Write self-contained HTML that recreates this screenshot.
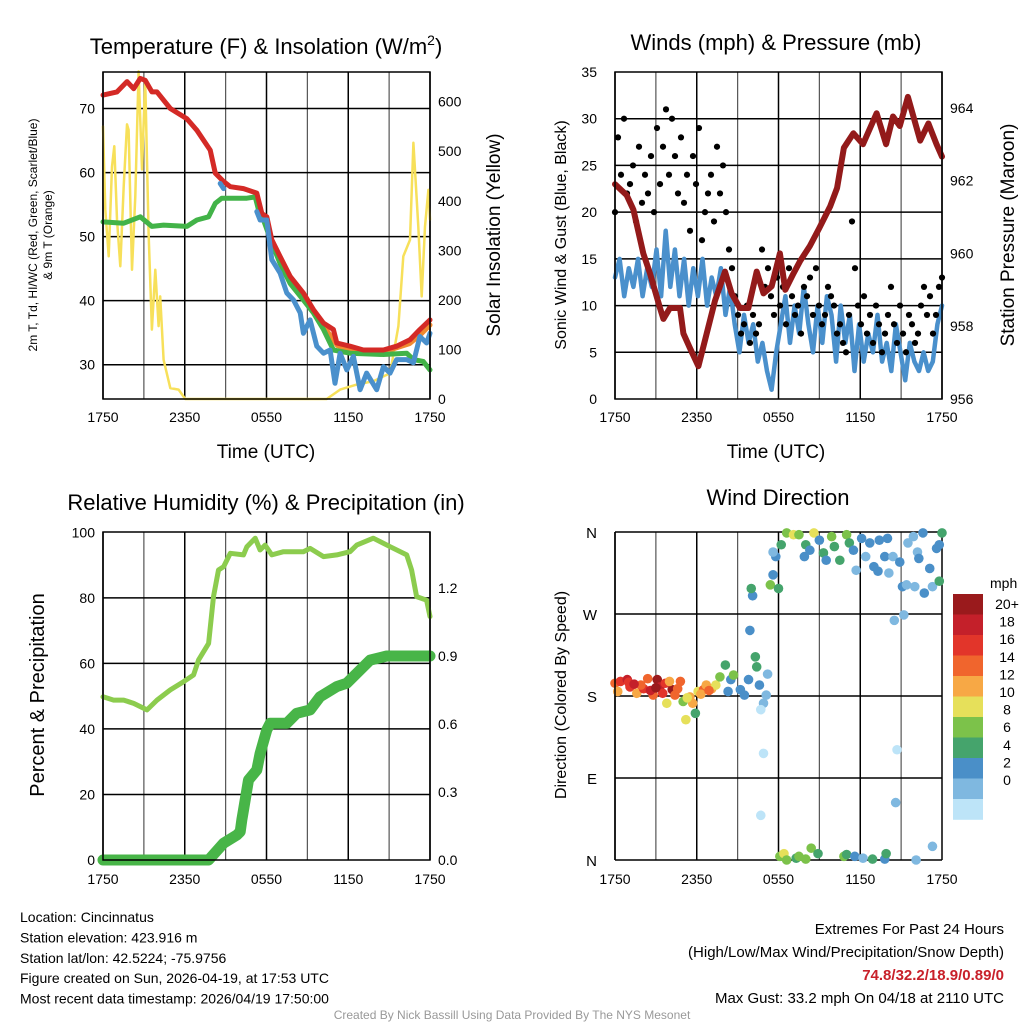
<!DOCTYPE html>
<html><head><meta charset="utf-8"><style>
body{margin:0;background:#fff;}
svg{display:block;font-family:"Liberation Sans",sans-serif;}
</style></head><body>
<svg id="c" width="1024" height="1024" viewBox="0 0 1024 1024"></svg>
<script>
// ---------- data ----------
const xTickLabels=["1750","2350","0550","1150","1750"];
// Panel 1 temperature (hours since 17:50)
const redH=[0,1.03,1.76,2.25,2.74,3.10,3.59,3.96,4.94,6.16,6.89,7.87,8.24,8.85,9.34,10.31,11.29,11.66,12.02,12.39,13.0,13.73,14.71,15.44,16.18,16.91,17.16,18.13,19.11,20.58,21.55,22.53,23.26,24];
const redT=[72.1,72.6,74.2,73.1,74.7,74.4,72.6,72.6,70,68.4,66.6,63.5,59.9,58.6,57.8,57.5,56.8,53.6,53.1,49.5,46.9,43.8,41.2,38.6,36.5,35.5,33.4,32.9,32.3,32.3,32.9,33.9,35.5,37.0];
const orgH=[16.2,17.2,18.1,20.6,22.5,23.3,24];
const orgT=[36.0,33.0,32.4,32.0,33.3,34.7,36.2];
const grnH=[0,1.52,2.74,3.59,4.45,6.16,6.89,7.75,8.24,8.72,9.58,10.56,11.17,11.41,11.78,12.39,13.0,13.73,14.71,15.44,16.18,16.91,18.13,20.58,22.29,22.78,23.51,24];
const grnT=[52.3,52.1,53.1,51.6,51.8,51.6,52.6,53.1,55.2,56.0,56.0,56.0,56.2,54.2,52.6,49.0,45.8,42.7,40.1,38.1,35.5,32.3,31.8,31.6,31.8,30.8,30.5,29.2];
const bluH=[8.6,8.85,null,11.29,11.53,12.02,12.39,13.0,13.49,13.98,14.47,14.71,15.2,15.69,16.18,16.67,17.03,17.4,17.89,18.38,18.87,19.35,20.09,20.58,21.07,21.55,22.29,22.78,23.26,23.75,24];
const bluT=[58.3,57.5,null,53.9,52.6,52.6,46.4,44.3,41.2,40.1,38.1,34.9,37.0,32.9,31.8,32.3,27.1,31.8,29.2,31.3,26.1,28.7,26.1,29.7,28.7,30.8,30.8,30.3,34.4,33.4,34.9];
const yelH=[0,0.17,0.42,0.66,0.83,1.03,1.27,1.52,1.76,1.88,2.13,2.37,2.61,2.86,3.1,3.35,3.59,3.84,4.08,4.2,4.45,4.94,5.55,6.04,16.42,17.4,18.62,19.84,21.07,21.68,22.04,22.53,22.78,23.14,23.39,23.63,23.88,24];
const yelW=[550,382,288,469,510,362,268,429,554,543,261,409,661,463,644,335,140,261,147,207,79,22,19,0,0,19,29,36,52,147,288,321,517,348,207,348,422,362];
const tTicks=[30,40,50,60,70];
const wTicks=[0,100,200,300,400,500,600];
// Panel 2 winds & pressure
const presH=[0,0.86,1.35,2.08,2.57,3.30,3.55,4.04,4.77,5.02,5.50,6.12,6.73,7.34,8.07,8.56,9.17,9.79,10.4,10.9,11.5,12.1,12.5,13.1,13.6,14.3,15.0,15.8,16.3,16.8,17.5,18.2,19.2,19.9,20.4,20.9,21.5,22.4,23.0,23.6,24];
const presV=[961.9,961.6,961.2,960.0,959.45,958.5,958.2,958.5,958.5,957.8,957.4,956.9,957.8,958.7,959.5,958.9,958.5,958.5,959.5,958.9,959.1,960.0,959.0,959.45,959.8,960.2,960.7,961.3,961.8,962.9,963.3,963.0,963.85,963.0,963.76,963.5,964.3,963.1,963.57,963.0,962.66];
const windV=[13,15,11,14,12,15,11,14,12,16,11,18,12,16,11,15,10,14,11,15,10,13,11,14,9,12,8,5,9,6,8,4,6,3,1,5,8,11,6,10,7,12,8,5,10,6,11,9,4,10,6,9,3,8,4,7,5,9,4,6,3,8,5,2,6,4,3,5,3,4,8,10];
const gustV=[20,28,24,30,22,23,25,19,27,21,24,22,26,20,29,23,27,31,24,30,26,22,28,21,24,18,26,23,29,17,20,22,24,19,27,22,25,20,16,14,
11,9,7,8,10,6,9,7,8,16,12,14,11,9,13,10,12,8,14,11,9,10,7,12,11,13,9,14,10,8,9,12,11,10,7,8,6,5,9,19,14,10,8,11,7,9,6,10,8,5,7,9,12,8,6,10,7,5,9,8,6,7,10,12,9,11,7,9,12,13];
const mphTicks=[0,5,10,15,20,25,30,35];
const presTicks=[956,958,960,962,964];
// Panel 3 RH & precip
const rhH=[0,0.78,1.52,2.25,3.23,3.96,4.94,5.91,6.65,7.01,7.75,8.11,8.48,8.85,9.34,10.31,10.56,11.17,11.53,11.9,12.39,13.25,14.71,15.2,16.18,17.16,18.13,18.62,19.84,21.07,22.29,22.65,23.02,23.75,24];
const rhV=[49.8,48.8,48.8,47.8,45.8,48.8,51.9,54.4,56.5,61.0,66.1,80.4,88.5,89.5,93.6,93.1,95.6,98.2,94.6,96.1,93.1,94.1,94.1,95.1,92.6,93.1,94.1,96.1,98.2,95.6,93.1,88.5,80.4,79.3,74.3];
const prH=[0,7.75,8.85,9.82,10.07,10.19,10.31,10.68,11.29,11.53,12.02,12.27,13.49,14.22,15.2,15.93,17.16,17.89,19.6,20.82,24];
const prV=[0,0,0.074,0.11,0.125,0.176,0.22,0.353,0.397,0.47,0.574,0.603,0.603,0.647,0.662,0.72,0.765,0.78,0.882,0.9,0.9];
const pctTicks=[0,20,40,60,80,100];
const inTicks=[0,0.3,0.6,0.9,1.2];
// Panel 4 wind direction
const dirH=[0,0.4,0.9,1.1,1.6,2.1,2.4,2.8,3.1,3.3,3.7,3.8,4.2,4.4,4.8,5.0,5.2,5.5,5.7,5.9,6.1,6.5,6.7,7.1,7.4,7.7,8.1,8.3,8.5,8.7,9.2,9.5,9.8,10.3,10.4,10.6,10.9,11.1,11.2,10.7,10.9,10.7,9.9,10.1,10.0,11.4,11.6,11.8,12.0,11.6,12.2,12.6,13.1,13.5,14.0,13.9,14.3,14.6,15.0,15.3,15.5,15.9,16.1,16.5,17.0,17.2,17.5,17.7,18.1,18.4,18.7,19.0,19.3,19.4,19.8,20.0,20.1,20.4,20.9,21.1,21.4,21.5,21.9,22.0,22.2,22.3,22.6,22.7,23.1,23.3,23.6,23.8,23.8,24.0,20.5,21.2,20.7,20.6,23.3,12.1,12.4,12.6,13.3,13.5,14.0,14.4,14.9,16.8,17.0,17.6,18.2,18.9,19.8,19.9,22.1,1.0,1.9,2.6,3.5,4.0,4.6,5.3,6.3,6.9,0.2,1.4,3.0];
const dirV=[194,196,198,190,183,188,199,181,198,190,194,172,187,181,196,174,154,179,172,161,185,187,192,188,192,201,214,185,198,203,187,181,198,223,212,192,172,181,204,165,117,49,252,290,298,302,313,333,298,338,346,359,357,357,346,333,340,359,351,337,329,355,344,329,357,348,340,318,353,333,348,322,317,351,333,353,315,333,327,300,302,348,355,300,338,331,359,293,320,300,342,346,306,359,263,269,121,63,15,4,7,0,2,4,1,13,7,4,6,4,2,1,1,7,0,195,192,186,183,196,188,178,182,186,185,193,189];
const dirS=[14,16,18,16,12,16,14,14,20,18,16,10,20,14,14,8,10,12,12,6,10,14,12,12,10,8,6,4,4,8,4,4,4,6,6,4,2,2,2,0,0,0,4,4,6,8,4,4,6,2,6,8,10,8,6,4,4,10,4,6,4,8,6,6,8,6,4,2,4,2,4,4,4,4,4,4,2,2,4,4,2,2,2,2,2,4,4,4,4,2,4,4,6,6,2,2,0,2,2,8,10,8,6,8,8,8,6,8,6,4,2,6,4,6,2,16,14,18,16,12,14,10,12,14,12,18,20];
const dirTickLabels=["N","E","S","W","N"];
const dirTicks=[0,90,180,270,360];
const cbLabels=["20+","18","16","14","12","10","8","6","4","2","0"];
const cbColors=["#9a1a1c","#c4202a","#e2352a","#f0652d","#f7a845","#e6e05a","#7cc24a","#45a46c","#4a8fc8","#7fb8e0","#bde4f8"];

// ---------- drawing ----------
const NS="http://www.w3.org/2000/svg";
const svg=document.getElementById('c');
function el(tag,attrs,parent,text){const e=document.createElementNS(NS,tag);for(const k in attrs)e.setAttribute(k,attrs[k]);if(text!==undefined)e.textContent=text;(parent||svg).appendChild(e);return e;}
function lin(d0,d1,r0,r1){return v=>r0+(v-d0)*(r1-r0)/(d1-d0);}
function pathD(hs,vs,sx,sy){let d="",pen=false;for(let i=0;i<hs.length;i++){if(hs[i]===null||vs[i]===null){pen=false;continue;}d+=(pen?"L":"M")+sx(hs[i]).toFixed(1)+","+sy(vs[i]).toFixed(1);pen=true;}return d;}
function grid(g,x0,x1,y0,y1,ys){
  for(let k=0;k<=8;k++){const x=x0+(x1-x0)*k/8;const l=el('line',{x1:x,x2:x,y1:y0,y2:y1,stroke:k%2?'#555':'#000','stroke-width':k%2?1.2:1.5},g);}
  ys.forEach(y=>{const l=el('line',{x1:x0,x2:x1,y1:y,y2:y,stroke:'#000','stroke-width':1.5},g);});
}
function xlabels(g,x0,x1,y){xTickLabels.forEach((t,i)=>{const tx=el('text',{x:x0+(x1-x0)*i/4,y:y,'font-size':14,'text-anchor':'middle'},g,t);});}
function frame(g,x0,x1,y0,y1){const r=el('rect',{x:x0,y:y0,width:x1-x0,height:y1-y0,fill:'none',stroke:'#000','stroke-width':1.5},g);}
function txt(g,name,x,y,s,size,anchor,rot,extra){const a={x:x,y:y,'font-size':size,'text-anchor':anchor||'middle'};if(rot)a.transform=`rotate(${rot} ${x} ${y})`;if(extra)Object.assign(a,extra);const t=el('text',a,g,s);return t;}
function line(g,name,d,color,w){const p=el('path',{d:d,fill:'none',stroke:color,'stroke-width':w,'stroke-linejoin':'round','stroke-linecap':'round'},g);return p;}

// Panel 1
(function(){
 const g=el('g',{});
 const X0=103,X1=430,Y0=72,Y1=399;
 const sx=lin(0,24,X0,X1), sy=lin(24.65,75.7,Y1,Y0);
 const swy=v=>Y1-v/0.6726/3;
 grid(g,X0,X1,Y0,Y1,tTicks.map(sy));
 line(g,'insolation-line',pathD(yelH,yelW,sx,swy),'#f7e05a',2.5);
 line(g,'orange-9m-temp-line',pathD(orgH,orgT,sx,sy),'#f08a30',5);
 line(g,'dewpoint-line',pathD(grnH,grnT,sx,sy),'#42b348',5);
 line(g,'red-temp-line',pathD(redH,redT,sx,sy),'#d42a26',5);
 line(g,'windchill-line',pathD(bluH,bluT,sx,sy),'#4a90cc',5);
 frame(g,X0,X1,Y0,Y1);
 tTicks.forEach(t=>txt(g,'temp-tick-label',X0-8,sy(t)+5,String(t),14,'end'));
 wTicks.forEach(t=>txt(g,'insolation-tick-label',X1+8,swy(t)+5,String(t),14,'start'));
 xlabels(g,X0,X1,422);
 txt(g,'x-axis-title',266,458,'Time (UTC)',19);
 const tt=txt(g,'chart-title',266,54,'Temperature (F) & Insolation (W/m',22);
 el('tspan',{'font-size':14,dy:-9},tt,'2');el('tspan',{'font-size':22,dy:9},tt,')');
 txt(g,'left-y-axis-title',37,235,'2m T, Td, HI/WC (Red, Green, Scarlet/Blue)',12,'middle',-90);
 txt(g,'left-y-axis-title-2',52,235,'& 9m T (Orange)',12,'middle',-90);
 txt(g,'right-y-axis-title',500,235,'Solar Insolation (Yellow)',19,'middle',-90);
})();

// Panel 2
(function(){
 const g=el('g',{});
 const X0=615,X1=942,Y0=72,Y1=399;
 const sx=lin(0,24,X0,X1), sy=lin(0,35,Y1,Y0), sp=lin(956,964,Y1,Y1-8*36.4);
 grid(g,X0,X1,Y0,Y1,mphTicks.slice(1,7).map(sy));
 const wh=windV.map((v,i)=>i*24/(windV.length-1));
 line(g,'sonic-wind-line',pathD(wh,windV,sx,sy),'#4a90cc',4.5);
 gustV.forEach((v,i)=>{const c=el('circle',{cx:sx(i*24/(gustV.length-1)),cy:sy(v),r:3.1,fill:'#000'},g);});
 line(g,'pressure-line',pathD(presH,presV,sx,sp),'#931a1a',6);
 frame(g,X0,X1,Y0,Y1);
 mphTicks.forEach(t=>txt(g,'mph-tick-label',X0-18,sy(t)+5,String(t),14,'end'));
 presTicks.forEach(t=>txt(g,'pressure-tick-label',X1+8,sp(t)+5,String(t),14,'start'));
 xlabels(g,X0,X1,422);
 txt(g,'x-axis-title',776,458,'Time (UTC)',19);
 txt(g,'chart-title',776,50,'Winds (mph) & Pressure (mb)',22);
 txt(g,'left-y-axis-title',566,235,'Sonic Wind & Gust (Blue, Black)',16,'middle',-90);
 txt(g,'right-y-axis-title',1014,235,'Station Pressure (Maroon)',19,'middle',-90);
})();

// Panel 3
(function(){
 const g=el('g',{});
 const X0=103,X1=430,Y0=532,Y1=860;
 const sx=lin(0,24,X0,X1), sr=v=>Y1-v*3.2767, sp=v=>Y1-v*226.7;
 grid(g,X0,X1,Y0,Y1,[20,40,60,80].map(sr));
 line(g,'rh-line',pathD(rhH,rhV,sx,sr),'#8ccc4e',5);
 line(g,'precip-line',pathD(prH,prV,sx,sp),'#48b548',11);
 frame(g,X0,X1,Y0,Y1);
 pctTicks.forEach(t=>txt(g,'pct-tick-label',X0-8,sr(t)+5,String(t),14,'end'));
 inTicks.forEach(t=>txt(g,'precip-tick-label',X1+8,sp(t)+5,t.toFixed(1),14,'start'));
 xlabels(g,X0,X1,884);
 txt(g,'chart-title',266,510,'Relative Humidity (%) & Precipitation (in)',22);
 txt(g,'left-y-axis-title',44,695,'Percent & Precipitation',20,'middle',-90);
})();

// Panel 4
(function(){
 const g=el('g',{});
 const X0=615,X1=942,Y0=532,Y1=860;
 const sx=lin(0,24,X0,X1), sy=lin(0,360,Y1,Y0);
 grid(g,X0,X1,Y0,Y1,dirTicks.map(sy));
 dirH.forEach((h,i)=>{const c=el('circle',{cx:sx(h),cy:sy(dirV[i]),r:4.8,fill:cbColors[10-Math.min(10,Math.floor(dirS[i]/2))]},g);});
 const l=el('line',{x1:X0,x2:X0,y1:Y0,y2:Y1,stroke:'#000','stroke-width':1.5},g);
 dirTicks.forEach((t,i)=>txt(g,'direction-tick-label',X0-18,sy(t)+6,dirTickLabels[i],15,'end'));
 xlabels(g,X0,X1,884);
 txt(g,'chart-title',778,505,'Wind Direction',22);
 txt(g,'left-y-axis-title',566,695,'Direction (Colored By Speed)',16,'middle',-90);
 const lg=el('g',{},g);
 cbColors.forEach((c,i)=>{const r=el('rect',{x:953,y:594+i*20.5,width:30,height:20.8,fill:c},lg);});
 txt(lg,'colorbar-title',990,588,'mph',14,'start');
 cbLabels.forEach((t,i)=>txt(lg,'colorbar-label',1007,609+i*17.6,t,14,'middle'));
})();

// Footer
(function(){
 const g=el('g',{});
 const L=["Location: Cincinnatus","Station elevation: 423.916 m","Station lat/lon: 42.5224; -75.9756","Figure created on Sun, 2026-04-19, at 17:53 UTC","Most recent data timestamp: 2026/04/19 17:50:00"];
 L.forEach((s,i)=>txt(g,'station-info-line',20,922+i*20.4,s,14,'start'));
 txt(g,'extremes-title',1004,934,'Extremes For Past 24 Hours',15,'end');
 txt(g,'extremes-subtitle',1004,957,'(High/Low/Max Wind/Precipitation/Snow Depth)',15,'end');
 txt(g,'extremes-values',1004,980,'74.8/32.2/18.9/0.89/0',15,'end',0,{fill:'#c8202a','font-weight':'bold'});
 txt(g,'max-gust',1004,1003,'Max Gust: 33.2 mph On 04/18 at 2110 UTC',15,'end');
 txt(g,'credit',512,1019,'Created By Nick Bassill Using Data Provided By The NYS Mesonet',12,'middle',0,{fill:'#999'});
})();
</script>
</body></html>
